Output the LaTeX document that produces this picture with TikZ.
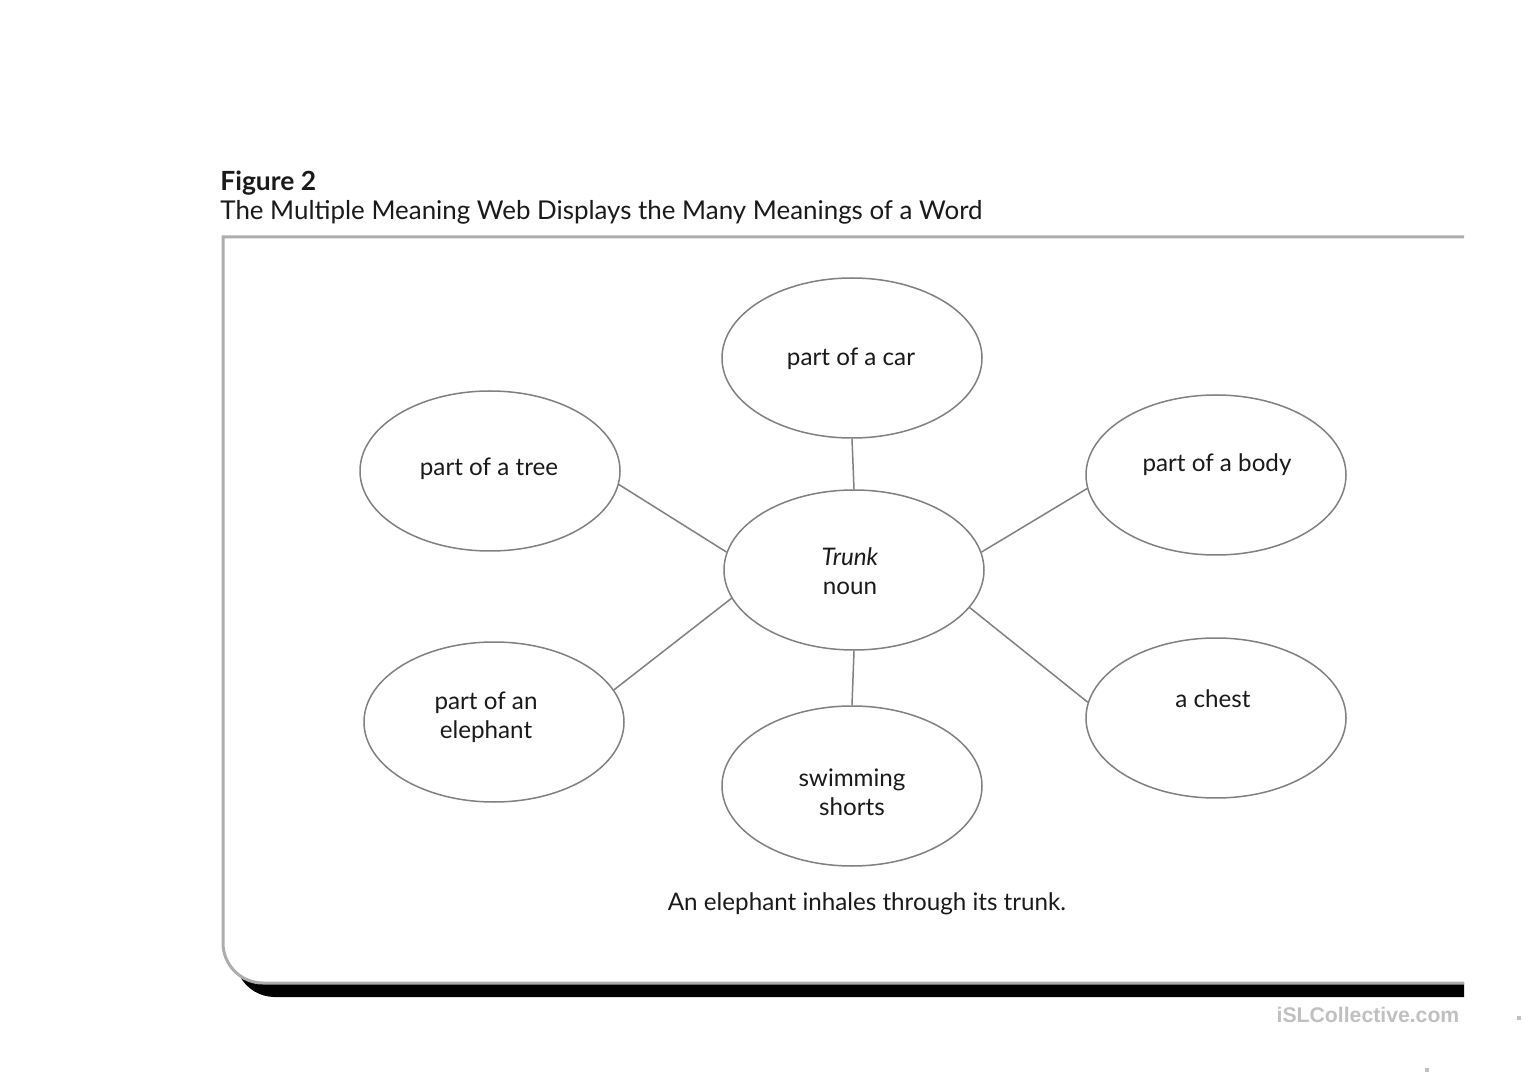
\documentclass[tikz,border=0pt]{standalone}
\usepackage{fontspec}
\setmainfont{Lato}
\newfontfamily\wmfont{Liberation Sans}
\usetikzlibrary{shapes.geometric}
\definecolor{linegray}{HTML}{808080}
\definecolor{framegray}{HTML}{ADADAD}
\definecolor{textblack}{HTML}{1A1A1A}
\definecolor{wmgray}{HTML}{C0C0C0}
\begin{document}
\begin{tikzpicture}[x=0.5pt,y=-0.5pt,
  bubble/.style={draw=linegray, line width=0.75pt, ellipse, minimum width=130pt, minimum height=80pt, inner sep=0pt},
  wordtext/.style={font=\fontsize{12.1}{14.5}\selectfont, align=center, inner sep=0pt, text=textblack},
  link/.style={draw=linegray, line width=0.75pt},
  frameline/.style={draw=framegray, line width=1.5pt}]
\useasboundingbox (0,0) rectangle (1527,1080);
\fill[white] (0,0) rectangle (1527,1080);

% heading
\node[anchor=west, inner sep=0pt, text=textblack, font=\fontsize{13.2}{15}\selectfont\bfseries] (fig) at (220,183) {Figure 2};
\node[anchor=west, inner sep=0pt, text=textblack, font=\fontsize{12.95}{15}\selectfont] (title) at (220,212) {The Multiple Meaning Web Displays the Many Meanings of a Word};

% frame shadow
\fill[black] (239.4,975.4) arc[start angle=152.7, end angle=90, radius=40] -- (1464,997) -- (1464,983) -- (263,983) arc[start angle=90, end angle=126.1, radius=40] -- cycle;
% frame
\draw[frameline] (1464,237) -- (223,237) -- (223,943) arc[start angle=180, end angle=90, radius=40] -- (1464,983);

% ellipses
\node[bubble] (car) at (852,358) {};
\node[bubble] (tree) at (490,471) {};
\node[bubble] (body) at (1216,475) {};
\node[bubble] (trunk) at (854,570) {};
\node[bubble] (eleph) at (494,722) {};
\node[bubble] (swim) at (852,786) {};
\node[bubble] (chest) at (1216,718) {};

% texts
\node[wordtext] (cart) at (851,359) {part of a car};
\node[wordtext] (treet) at (489,469) {part of a tree};
\node[wordtext] (bodyt) at (1217,465) {part of a body};
\node[wordtext] (trunkt) at (850,571) {\textit{Trunk}\\noun};
\node[wordtext] (elepht) at (486,717) {part of an\\elephant};
\node[wordtext] (swimt) at (852,792) {swimming\\shorts};
\node[wordtext] (chestt) at (1213,699) {a chest};
\node[wordtext] (caption) at (867,904) {An elephant inhales through its trunk.};

% connectors
\draw[link] (car.south) -- (trunk.north);
\draw[link] (tree.-6) -- (trunk.172);
\draw[link] (body.-174) -- (trunk.8);
\draw[link] (eleph.15.8) -- (trunk.193.9);
\draw[link] (chest.173.4) -- (trunk.-18.9);
\draw[link] (trunk.south) -- (swim.north);

% watermark
\node[inner sep=0pt, text=wmgray, font=\wmfont\fontsize{10.6}{12}\selectfont\bfseries] (wm) at (1368,1015) {iSLCollective.com};
\fill[wmgray] (1517,1016) rectangle (1521,1020);
\fill[wmgray] (1425,1068) rectangle (1429,1072);
\end{tikzpicture}
\end{document}
